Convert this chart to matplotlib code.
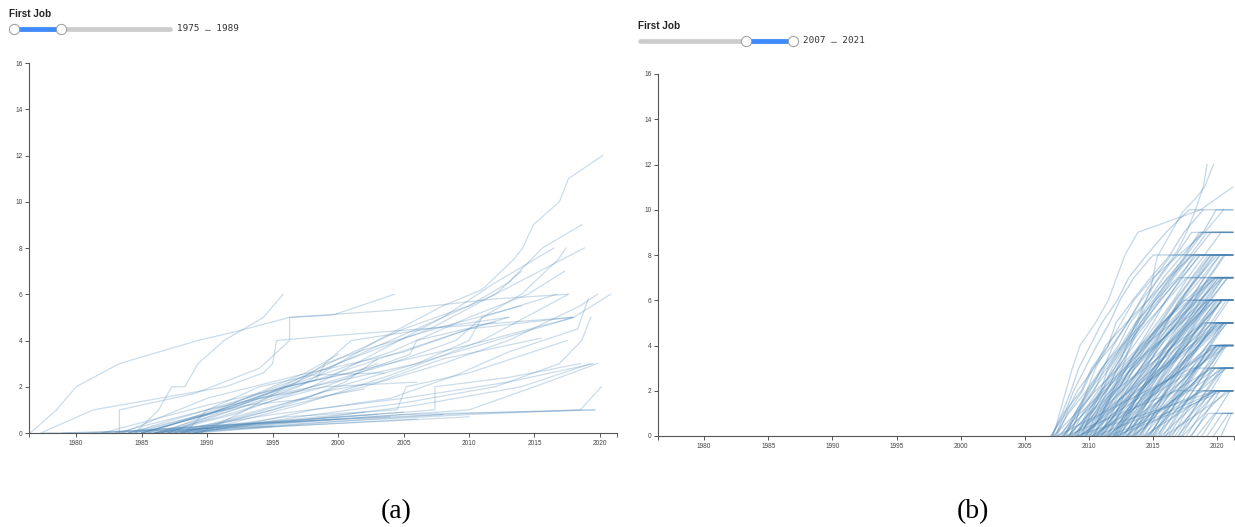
import matplotlib.pyplot as plt
from matplotlib.lines import Line2D

# ---- data ----
# slider settings (First Job range shown in each panel)
SLIDER_MIN, SLIDER_MAX = 1975, 2021
range_a = (1975, 1989)
range_b = (2007, 2021)

x_ticks = [1980, 1985, 1990, 1995, 2000, 2005, 2010, 2015, 2020]
y_ticks = [0, 2, 4, 6, 8, 10, 12, 14, 16]
x_domain = (1976.4, 2021.3)

# panel (a): people whose first job is 1975-1989, (years, value)
paths_a = [
    ([1976.5, 1978.5, 1980, 1983.3, 1989.3, 1992.3, 1996.3, 1999.6, 2004.3], [0, 1, 2, 3, 4, 4.4, 5, 5.1, 6]),
    ([1977.3, 1981.3, 1991.4, 1994.3, 1995, 1995.3, 1999.4, 2017.9], [0, 1, 2, 2.6, 3, 4, 4.2, 5]),
    ([1984.5, 1986.3, 1987.3, 1988.3, 1989.3, 1991.3, 1994.3, 1995.8], [0, 1, 2, 2, 3, 4, 5, 6]),
    ([1983.3, 1983.3, 1989, 1994, 1996.3, 1996.3, 2004, 2012, 2017.5], [0, 1, 1.7, 2.8, 4, 5, 5.3, 5.8, 6]),
    ([1986, 1992, 1997, 2003, 2008, 2011, 2013.4, 2014.1, 2014.9, 2016.9, 2017.6, 2020.2], [0, 1, 2, 4, 5.5, 6.2, 7.5, 8, 9, 10, 11, 12]),
    ([1985, 1990, 1995, 2000, 2005, 2010, 2013, 2015.6, 2018.6], [0, 0.8, 1.8, 3.2, 4.5, 5.5, 6.5, 8, 9]),
    ([1987, 1992, 1998, 2003, 2008, 2012, 2016.5], [0, 1, 2, 3.5, 5, 6.5, 8]),
    ([1988, 1995, 2000, 2006, 2010, 2011, 2014, 2016.8, 2017.4], [0, 1, 2, 3, 4, 5, 6, 7.5, 8]),
    ([1985.5, 1993, 2000, 2007, 2012, 2018.8], [0, 1.5, 3, 4.5, 6, 8]),
    ([1984, 1990, 1997, 2004, 2010, 2014.5, 2017.3], [0, 1, 2.2, 3.5, 5, 6, 7]),
    ([1986.5, 1992, 1998, 2004, 2009, 2011, 2016.7], [0, 0.8, 2, 3, 4, 5, 6]),
    ([1988.5, 1995, 2002, 2008, 2013, 2018.5, 2019.8], [0, 1, 2, 3, 4, 5.5, 6]),
    ([1983, 1990, 1998, 2006, 2012, 2018, 2020.8], [0, 1, 2, 3, 4, 5, 6]),
    ([1989, 1997, 2004, 2011, 2017.6], [0, 1.2, 2.5, 4, 6]),
    ([1985, 1993, 2001, 2010, 2017.8], [0, 1.3, 2.8, 4.5, 5]),
    ([1982, 1990, 2000, 2010, 2018], [0, 1.2, 2.5, 3.8, 5]),
    ([1987.5, 1996, 2004.5, 2005.2, 2010, 2017.5], [0, 0.7, 1, 2, 2.6, 4]),
    ([1989, 1997, 2005, 2012, 2016.9, 2018.6, 2019.3], [0, 0.7, 1.3, 2, 3, 4, 5]),
    ([1986, 1995, 2005, 2013, 2019.5], [0, 0.8, 1.5, 2.2, 3]),
    ([1988, 1998, 2007.4, 2007.4, 2013, 2018.5], [0, 0.6, 1, 2, 2.4, 3]),
    ([1987, 2000, 2010, 2015, 2019.8], [0, 0.6, 1, 2, 3]),
    ([1988.5, 2000, 2010, 2018.5, 2020.1], [0, 0.5, 0.8, 1, 2]),
    ([1983, 1990, 2000, 2010, 2019.6], [0, 0.3, 0.6, 0.85, 1]),
    ([1985, 1995, 2005, 2019.6], [0, 0.4, 0.8, 1.0]),
    ([1982, 1995, 2005], [0, 0.5, 0.9]),
    ([1984, 1994, 2004], [0, 0.4, 0.7]),
    ([1985.5, 1996, 2006], [0, 0.3, 0.6]),
    ([1986, 1993, 2003], [0, 0.4, 0.8]),
    ([1987, 1995, 2002], [0, 0.5, 0.9]),
    ([1988, 1997, 2008], [0, 0.4, 0.8]),
    ([1981, 1990, 2000], [0, 0.3, 0.6]),
    ([1989, 1996, 2010], [0, 0.3, 0.7]),
    ([1979, 1985, 1995], [0, 0.1, 0.3]),
    ([1977.5, 1984, 1990], [0, 0.05, 0.2]),
    ([1985, 1990, 1995, 1997.5, 2000], [0, 0.8, 2, 2.6, 3.4]),
    ([1986.5, 1991, 1996, 2001, 2003], [0, 1, 2, 2.6, 3]),
    ([1988.3, 1990, 1994, 1998, 2003.5], [0, 1, 2, 2.5, 2.6]),
    ([1987, 1990.5, 1994, 1999, 2006], [0, 0.8, 1.5, 2, 2.2]),
    ([1984, 1989, 1993, 1998, 2002], [0, 0.7, 1.2, 1.5, 1.9]),
    ([1985, 1992, 1996, 1998.3, 1999, 2001, 2008, 2013], [0, 1.1, 2.0, 2.3, 3, 4, 4.6, 5.0]),
    ([1983.5, 1990, 1997, 2005, 2010, 2013], [0, 1.5, 2.5, 3.5, 4.5, 5]),
    ([1989.5, 1993, 1996, 2000, 2004, 2008, 2012, 2014], [0, 1, 2, 3, 4, 5, 6, 7]),
    ([1984.5, 1991, 1996.3, 1999, 2002, 2008, 2014], [0, 1, 2, 3, 3.6, 4.6, 5.5]),
    ([1986, 1991, 1995, 1999, 2002.5, 2005.5, 2006, 2012], [0, 0.7, 1.4, 2, 2.8, 3.4, 4, 4.8]),
    ([1988, 1992, 1995, 1999, 2003, 2008, 2015.5], [0, 0.6, 1.1, 1.8, 2.2, 3.2, 4.1]),
    ([1987.5, 1991, 1994, 1998, 2000.5, 2003], [0, 0.5, 1.0, 1.6, 2.2, 3.2]),
    ([1989, 1994, 1998, 2004, 2009, 2013, 2018.3, 2019.1], [0, 0.5, 1, 1.5, 2.5, 3.5, 4.5, 5.8]),
    ([1986, 1992, 1998, 2006, 2014, 2019.3], [0, 0.3, 0.6, 1.2, 2.0, 3.0]),
]

# panel (b): first job 2007-2021; dates of each job (count goes 0, 1, 2, ...)
# and the date up to which the last count holds (None = line ends at last job)
jobs_b = [
    [2007.1, 2007.9, 2008.6, 2009.2, 2010.1, 2011.0, 2012.2, 2013.1, 2014.5, 2016.0, 2017.8],
    [2007.3, 2008.4, 2009.8, 2011.0, 2012.5, 2013.6, 2015.2, 2016.9, 2018.4],
    [2007.5, 2008.3, 2009.5, 2010.3, 2011.8, 2013.0, 2014.1, 2015.5, 2016.8, 2018.0],
    [2007.2, 2009.0, 2010.5, 2012.3, 2014.0, 2015.7, 2017.5, 2019.6],
    [2007.8, 2008.9, 2010.0, 2011.4, 2012.6, 2014.2, 2015.6, 2017.0],
    [2007.0, 2008.2, 2009.1, 2010.4, 2011.3, 2012.9, 2014.6, 2016.2, 2018.1, 2019.5],
    [2007.6, 2009.3, 2011.2, 2013.0, 2015.1, 2017.2, 2019.3],
    [2007.4, 2008.1, 2008.8, 2009.7, 2010.6, 2011.6, 2012.4, 2013.5, 2015.0],
    [2007.9, 2009.6, 2010.9, 2012.8, 2014.3, 2016.5, 2018.6, 2020.4],
    [2007.1, 2008.0, 2009.4, 2010.2, 2011.5, 2012.1, 2013.4, 2014.8, 2016.3, 2017.4, 2018.9],
    [2008.0, 2009.1, 2010.3, 2011.6, 2012.8, 2014.0, 2015.4, 2016.6, 2018.0],
    [2008.2, 2009.0, 2010.1, 2011.0, 2012.3, 2013.2, 2014.6, 2015.8, 2017.3, 2018.8],
    [2008.4, 2010.0, 2011.7, 2013.3, 2015.2, 2017.0, 2019.0],
    [2008.6, 2009.5, 2010.7, 2012.0, 2013.1, 2014.5, 2016.1, 2017.6],
    [2008.8, 2010.2, 2011.3, 2012.7, 2014.1, 2015.9, 2017.2, 2018.5, 2020.0],
    [2008.1, 2008.9, 2009.9, 2011.1, 2011.9, 2013.0, 2014.0, 2015.1, 2016.4],
    [2008.3, 2010.1, 2012.0, 2014.4, 2016.6, 2018.9],
    [2008.5, 2009.2, 2010.4, 2011.2, 2012.6, 2013.8, 2015.0, 2016.4, 2017.9, 2019.2],
    [2008.7, 2010.5, 2012.1, 2013.6, 2015.3, 2016.9, 2018.3, 2019.7],
    [2008.9, 2009.8, 2011.0, 2011.8, 2012.9, 2014.3, 2015.5, 2017.1, 2018.2],
    [2008.0, 2009.6, 2011.4, 2012.5, 2014.2, 2015.7, 2017.8, 2019.9],
    [2008.6, 2011.0, 2013.2, 2015.6, 2018.0, 2020.3],
    [2009.0, 2010.0, 2011.1, 2012.2, 2013.5, 2014.7, 2016.0, 2017.2, 2018.7],
    [2009.2, 2010.4, 2011.9, 2013.4, 2014.9, 2016.2, 2017.9, 2019.4],
    [2009.4, 2010.1, 2011.0, 2012.0, 2013.0, 2014.2, 2015.1, 2016.3, 2017.5, 2018.6],
    [2009.5, 2011.3, 2013.1, 2015.0, 2017.0, 2019.1],
    [2009.7, 2010.8, 2011.7, 2013.0, 2014.4, 2015.6, 2016.8, 2018.1, 2019.5],
    [2009.9, 2011.0, 2012.4, 2013.6, 2015.0, 2016.5, 2018.0],
    [2009.1, 2009.9, 2010.9, 2011.5, 2012.7, 2013.7, 2014.8, 2016.1, 2017.7],
    [2009.3, 2011.5, 2013.7, 2016.0, 2018.2, 2020.5],
    [2009.6, 2010.6, 2012.2, 2013.3, 2014.6, 2016.0, 2017.3, 2018.8, 2020.2],
    [2009.8, 2010.9, 2012.0, 2012.9, 2014.0, 2015.3, 2016.6, 2017.7, 2019.0, 2020.3],
    [2009.0, 2010.7, 2012.6, 2014.1, 2016.1, 2017.8, 2019.8],
    [2009.5, 2010.4, 2011.6, 2012.8, 2014.5, 2015.8, 2017.4],
    [2009.2, 2012.0, 2014.8, 2017.5, 2020.0],
    [2009.7, 2011.2, 2012.5, 2014.0, 2015.4, 2016.9, 2018.4],
    [2009.4, 2010.2, 2011.3, 2012.3, 2013.3, 2014.0, 2015.2, 2016.5, 2017.6, 2018.9, 2019.9],
    [2010.0, 2011.0, 2012.1, 2013.3, 2014.5, 2015.8, 2017.1, 2018.4, 2019.7],
    [2010.2, 2011.6, 2013.0, 2014.6, 2016.2, 2017.9, 2019.5],
    [2010.4, 2011.2, 2012.3, 2013.2, 2014.3, 2015.5, 2016.7, 2018.0, 2019.3],
    [2010.5, 2012.2, 2014.0, 2015.9, 2017.9, 2020.0],
    [2010.7, 2011.8, 2012.7, 2014.0, 2015.2, 2016.4, 2017.8, 2019.0],
    [2010.9, 2012.4, 2013.5, 2015.0, 2016.6, 2018.1, 2019.8],
    [2010.1, 2011.0, 2011.8, 2012.9, 2013.9, 2015.0, 2016.0, 2017.3, 2018.6],
    [2010.3, 2013.0, 2015.5, 2018.3, 2020.8],
    [2010.6, 2011.5, 2012.9, 2014.2, 2015.3, 2016.8, 2018.2, 2019.6],
    [2010.8, 2012.0, 2013.4, 2014.7, 2016.0, 2017.6, 2019.2],
    [2010.0, 2011.9, 2013.8, 2015.7, 2017.6, 2019.6],
    [2010.4, 2011.4, 2012.6, 2013.5, 2014.8, 2016.1, 2017.0, 2018.5, 2019.8],
    [2010.9, 2011.7, 2013.1, 2014.4, 2015.6, 2017.2, 2018.7, 2020.1],
    [2010.2, 2012.8, 2014.9, 2017.4, 2019.9],
    [2010.6, 2012.1, 2013.6, 2015.1, 2016.5, 2018.0, 2019.4, 2020.8],
    [2011.0, 2012.0, 2013.2, 2014.3, 2015.6, 2016.8, 2018.1, 2019.4, 2020.6],
    [2011.2, 2012.7, 2014.3, 2015.9, 2017.6, 2019.3],
    [2011.4, 2012.3, 2013.3, 2014.5, 2015.4, 2016.6, 2017.9, 2019.0, 2020.2],
    [2011.5, 2013.4, 2015.2, 2017.3, 2019.5],
    [2011.7, 2012.8, 2013.9, 2015.3, 2016.5, 2017.7, 2019.1, 2020.5],
    [2011.9, 2013.2, 2014.6, 2015.8, 2017.4, 2018.9, 2020.4],
    [2011.1, 2012.1, 2012.9, 2014.0, 2015.1, 2016.0, 2017.2, 2018.3, 2019.5],
    [2011.3, 2014.0, 2016.7, 2019.6],
    [2011.6, 2012.9, 2014.1, 2015.5, 2017.0, 2018.6, 2020.0],
    [2011.8, 2013.0, 2014.2, 2015.2, 2016.6, 2017.9, 2019.2],
    [2011.0, 2012.5, 2014.1, 2015.6, 2017.3, 2018.8, 2020.4],
    [2011.5, 2012.4, 2013.6, 2014.8, 2016.1, 2017.3, 2018.4, 2019.8],
    [2011.2, 2013.1, 2015.0, 2016.8, 2018.6, 2020.5],
    [2011.9, 2012.8, 2014.0, 2015.0, 2016.2, 2017.5, 2018.8, 2020.1],
    [2012.0, 2013.0, 2014.1, 2015.3, 2016.5, 2017.8, 2019.0, 2020.3],
    [2012.2, 2013.8, 2015.4, 2017.0, 2018.8, 2020.6],
    [2012.4, 2013.3, 2014.4, 2015.3, 2016.4, 2017.6, 2018.7, 2019.9],
    [2012.5, 2014.4, 2016.3, 2018.4, 2020.4],
    [2012.7, 2013.8, 2015.0, 2016.2, 2017.6, 2018.9, 2020.3],
    [2012.9, 2014.2, 2015.7, 2017.1, 2018.5, 2020.0],
    [2012.1, 2013.1, 2014.0, 2015.1, 2016.0, 2017.1, 2018.2, 2019.3, 2020.5],
    [2012.3, 2015.0, 2017.8, 2020.5],
    [2012.6, 2013.9, 2015.2, 2016.7, 2018.0, 2019.6],
    [2012.8, 2013.7, 2014.9, 2016.0, 2017.3, 2018.4, 2019.7],
    [2012.0, 2013.6, 2015.3, 2016.9, 2018.5, 2020.2],
    [2012.4, 2013.5, 2014.7, 2015.8, 2017.2, 2018.3, 2019.5, 2020.8],
    [2012.9, 2015.2, 2017.5, 2019.9],
    [2012.2, 2013.2, 2014.5, 2015.6, 2016.8, 2018.1, 2019.4],
    [2013.0, 2014.0, 2015.1, 2016.3, 2017.5, 2018.8, 2020.1],
    [2013.2, 2014.8, 2016.5, 2018.2, 2020.0],
    [2013.4, 2014.3, 2015.4, 2016.4, 2017.6, 2018.7, 2019.9],
    [2013.5, 2015.4, 2017.4, 2019.5],
    [2013.7, 2014.8, 2016.0, 2017.3, 2018.6, 2020.0],
    [2013.9, 2015.1, 2016.6, 2018.0, 2019.6],
    [2013.1, 2014.1, 2015.0, 2016.1, 2017.1, 2018.2, 2019.3, 2020.4],
    [2013.3, 2016.0, 2018.8],
    [2013.6, 2014.7, 2015.9, 2017.0, 2018.3, 2019.5, 2020.7],
    [2013.8, 2015.3, 2016.9, 2018.4, 2020.2],
    [2013.0, 2014.6, 2016.1, 2017.7, 2019.2, 2020.8],
    [2013.5, 2014.4, 2015.6, 2016.8, 2018.0, 2019.1, 2020.3],
    [2014.0, 2015.0, 2016.1, 2017.3, 2018.5, 2019.8],
    [2014.2, 2015.8, 2017.5, 2019.3],
    [2014.4, 2015.3, 2016.4, 2017.5, 2018.6, 2019.7, 2020.9],
    [2014.5, 2016.5, 2018.6, 2020.7],
    [2014.7, 2015.8, 2017.0, 2018.3, 2019.6],
    [2014.9, 2016.2, 2017.6, 2019.1, 2020.5],
    [2014.1, 2015.1, 2016.0, 2017.1, 2018.1, 2019.2, 2020.3],
    [2014.3, 2017.0, 2019.8],
    [2014.6, 2015.9, 2017.2, 2018.5, 2020.0],
    [2014.8, 2015.7, 2016.9, 2018.0, 2019.2, 2020.4],
    [2015.0, 2016.0, 2017.1, 2018.3, 2019.5, 2020.7],
    [2015.2, 2016.8, 2018.5, 2020.2],
    [2015.4, 2016.3, 2017.3, 2018.4, 2019.4, 2020.5],
    [2015.6, 2017.5, 2019.5],
    [2015.8, 2016.9, 2018.1, 2019.3, 2020.6],
    [2015.1, 2016.2, 2017.4, 2018.6, 2019.9],
    [2015.5, 2016.6, 2017.8, 2019.0, 2020.2],
    [2015.9, 2018.5, 2021.0],
    [2016.0, 2017.0, 2018.1, 2019.3, 2020.5],
    [2016.3, 2018.0, 2019.7],
    [2016.5, 2017.5, 2018.6, 2019.6, 2020.7],
    [2016.7, 2017.9, 2019.2, 2020.5],
    [2016.9, 2018.4, 2020.0],
    [2016.2, 2017.3, 2018.5, 2019.8],
    [2017.0, 2018.0, 2019.1, 2020.3],
    [2017.3, 2019.0, 2020.7],
    [2017.6, 2018.7, 2019.9],
    [2017.9, 2019.3],
    [2017.2, 2018.3, 2019.5, 2020.6],
    [2018.0, 2019.1, 2020.2],
    [2018.4, 2019.8],
    [2018.8, 2019.9, 2021.0],
    [2019.2, 2020.4],
    [2019.7, 2020.9],
    [2020.3, 2021.1],
    [2008.2, 2012.5, 2016.8],
    [2009.0, 2014.5, 2019.9],
    [2010.5, 2015.0, 2019.0],
    [2011.5, 2016.0, 2020.0],
    [2007.5, 2011.0, 2014.5, 2018.0],
    [2012.0, 2016.5, 2020.4],
]
until_b = [
    2021.2, 2021.2, 2021.2, 2021.2, 2020.5, 2021.2, 2021.2, 2019.0, 2021.2, None,
    2021.2, 2021.2, 2021.2, 2021.2, None, 2019.8, 2021.2, 2021.2, 2021.2, 2020.2, 2021.2, None,
    2021.2, 2021.2, 2021.2, 2021.2, None, 2021.2, 2020.6, None, None, 2021.2, 2021.2, 2019.6, 2021.2, 2021.2, 2021.2,
    2021.2, 2021.2, 2021.2, 2021.2, None, 2021.2, 2020.9, None, 2021.2, None, 2021.2, 2021.2, 2021.2, 2021.2, None,
    None, 2021.2, 2021.2, 2021.2, 2021.2, None, 2021.2, 2021.2, 2021.2, 2021.2, 2021.2, 2021.2, 2021.2, None,
    2021.2, None, 2021.2, 2021.2, 2021.2, 2021.2, 2021.2, 2021.2, 2021.2, 2021.2, 2021.2, None, 2021.2, 2021.2,
    2021.2, 2021.2, 2021.2, 2021.2, 2021.2, 2021.2, 2021.2, 2021.2, None, 2021.2, None, 2021.2,
    2021.2, 2021.2, None, None, 2021.2, 2021.2, 2021.2, 2021.2, 2021.2, 2021.2,
    None, 2021.2, 2021.2, 2021.2, None, 2021.2, 2021.2, None,
    2021.2, 2021.2, None, 2021.2, 2021.2, 2021.2,
    2021.2, None, 2021.2, 2021.2, None,
    2021.2, 2021.2, None, 2021.2, None, None,
    2021.2, 2021.2, 2021.2, 2021.2, 2021.2, 2021.2,
]
# a few fast climbers in (b), kept with their own (years, counts)
extra_b = [
    ([2007.2, 2008.2, 2008.7, 2009.3, 2010.5, 2011.5, 2012.8, 2013.8, 2018.7, 2021.2], [0, 2, 3, 4, 5, 6, 8, 9, 10, 11]),
    ([2009.8, 2011, 2012.2, 2013.3, 2014.4, 2015.4, 2016.9, 2017.6, 2018.3, 2018.9, 2019.2], [0, 1.5, 3, 4.5, 6, 7, 8.2, 9, 10, 11, 12]),
    ([2010.3, 2011.5, 2012.6, 2013.8, 2014.8, 2015.3, 2017.3, 2018.3, 2019.0, 2019.7], [0, 1.5, 3, 5, 6.5, 7.9, 9.9, 10.5, 11, 12]),
    ([2008.5, 2009.5, 2010.5, 2012, 2013.5, 2015, 2017, 2019, 2020.5], [0, 1.5, 3, 4.5, 6, 7, 8, 9, 10]),
]

LINE_COLOR = "#4682b4"
AXIS_COLOR = "#555555"

W, H = 1235, 527


def px(x, y):
    # pixel position (from top-left) -> figure fraction
    return x / W, 1 - y / H


def style_axis(ax):
    ax.set_xlim(*x_domain)
    ax.set_ylim(0, 16)
    ax.set_xticks(x_ticks)
    ax.set_yticks(y_ticks)
    ax.set_xticks(list(x_domain), minor=True)
    for s in ("top", "right"):
        ax.spines[s].set_visible(False)
    for s in ("left", "bottom"):
        ax.spines[s].set_color(AXIS_COLOR)
        ax.spines[s].set_linewidth(0.8)
    ax.tick_params(which="both", length=3.2, width=0.7, color=AXIS_COLOR,
                   labelsize=4.7, labelcolor="#444444", pad=1.5)
    for lab in ax.get_xticklabels() + ax.get_yticklabels():
        lab.set_family("Liberation Sans")
    ax.patch.set_alpha(0)


def draw_slider(fig, title, title_xy, x0, x1, y, lo, hi, text_x):
    def to_px(v):
        return x0 + (v - SLIDER_MIN) / (SLIDER_MAX - SLIDER_MIN) * (x1 - x0)
    tx, ty = px(*title_xy)
    fig.text(tx, ty, title, ha="left", va="center", fontsize=7.2,
             fontweight="bold", family="Liberation Sans", color="#222222")
    (ax0, ay), (ax1, _) = px(x0, y), px(x1, y)
    fig.add_artist(Line2D([ax0, ax1], [ay, ay], transform=fig.transFigure,
                          color="#cccccc", lw=3.4, solid_capstyle="round"))
    lx, hx = px(to_px(lo), y)[0], px(to_px(hi), y)[0]
    fig.add_artist(Line2D([lx, hx], [ay, ay], transform=fig.transFigure,
                          color="#3d8bfd", lw=3.4, solid_capstyle="butt"))
    for hxv in (lx, hx):
        fig.add_artist(Line2D([hxv], [ay], transform=fig.transFigure, marker="o",
                              markersize=7.4, markerfacecolor="white",
                              markeredgecolor="#9a9a9a", markeredgewidth=0.7))
    fig.text(px(text_x, y)[0], ay, f"{lo} \u2026 {hi}", ha="left", va="center",
             fontsize=6.7, family="DejaVu Sans Mono", color="#333333")


fig = plt.figure(figsize=(W / 100, H / 100), dpi=100)

ax_a = fig.add_axes([29 / W, 1 - 433 / H, (617 - 29) / W, (433 - 63) / H])
for xs, ys in paths_a:
    ax_a.plot(xs, ys, color=LINE_COLOR, alpha=0.28, lw=0.9)
style_axis(ax_a)

ax_b = fig.add_axes([658 / W, 1 - 436 / H, (1234 - 658) / W, (436 - 74) / H])
for jobs, until in zip(jobs_b, until_b):
    xs = list(jobs)
    ys = list(range(len(jobs)))
    if until is not None:
        xs.append(until)
        ys.append(ys[-1])
    ax_b.plot(xs, ys, color=LINE_COLOR, alpha=0.34, lw=0.95)
for xs, ys in extra_b:
    ax_b.plot(xs, ys, color=LINE_COLOR, alpha=0.3, lw=0.95)
style_axis(ax_b)

draw_slider(fig, "First Job", (9, 14), 14, 170, 28.5, *range_a, text_x=177)
draw_slider(fig, "First Job", (638, 26), 640, 793, 40.5, *range_b, text_x=803)

fig.text(*px(396, 512), "(a)", ha="center", va="center", fontsize=20, family="Liberation Serif")
fig.text(*px(973, 512), "(b)", ha="center", va="center", fontsize=20, family="Liberation Serif")

fig.savefig("out.png", dpi=100)
